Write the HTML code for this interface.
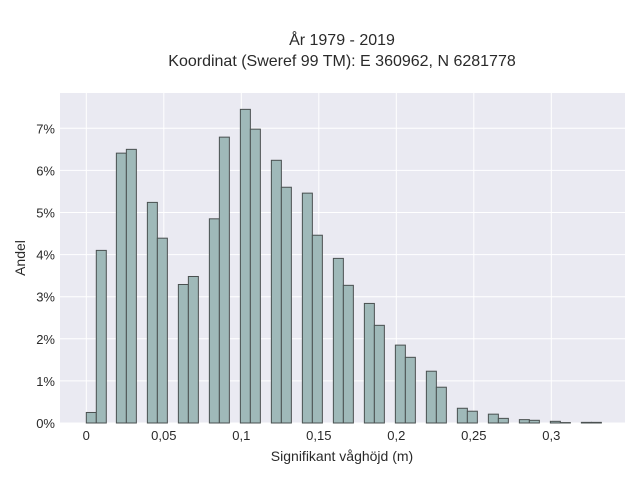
<!DOCTYPE html>
<html><head><meta charset="utf-8"><style>
body{margin:0;background:#fff;font-family:"Liberation Sans",sans-serif;}
</style></head><body>
<svg width="640" height="480" xmlns="http://www.w3.org/2000/svg">
<rect x="0" y="0" width="640" height="480" fill="#fff"/>
<rect x="60" y="93" width="565" height="330" fill="#eaeaf2"/>
<g id="grid"></g><g id="bars"></g><g id="axes"></g>
<text x="342" y="45" text-anchor="middle" font-size="16" fill="#2a2a2a">År 1979 - 2019</text>
<text x="342" y="66" text-anchor="middle" font-size="16" fill="#2a2a2a">Koordinat (Sweref 99 TM): E 360962, N 6281778</text>
<text x="342" y="461" text-anchor="middle" font-size="14" fill="#2a2a2a">Signifikant våghöjd (m)</text>
<text x="25" y="258" text-anchor="middle" font-size="14" fill="#2a2a2a" transform="rotate(-90 25 258)">Andel</text>
</svg>
<script>
const binStart=[0,0.00645,0.0194,0.02585,0.0394,0.04585,0.0594,0.06585,0.0794,0.08585,0.0994,0.10585,0.1194,0.12585,0.1394,0.14585,0.1594,0.16585,0.1794,0.18585,0.1994,0.20585,0.2194,0.22585,0.2394,0.24585,0.2594,0.26585,0.2794,0.28585,0.2994,0.30585,0.3194,0.32585];
const shares=[0.25,4.10,6.41,6.50,5.24,4.39,3.29,3.48,4.85,6.79,7.45,6.98,6.24,5.60,5.46,4.46,3.91,3.27,2.84,2.32,1.85,1.56,1.23,0.85,0.35,0.28,0.21,0.11,0.08,0.064,0.04,0.01,0.015,0.015];
const binWidth=0.00645;
const xTicks=[0,0.05,0.1,0.15,0.2,0.25,0.3];
const xTickLabels=["0","0,05","0,1","0,15","0,2","0,25","0,3"];
const yTicks=[0,1,2,3,4,5,6,7];
const yTickLabels=["0%","1%","2%","3%","4%","5%","6%","7%"];
const NS="http://www.w3.org/2000/svg";
const xs=v=>86.3+v*1550;
const ys=v=>423-v*42.1;
function mk(tag,attrs,parent){const e=document.createElementNS(NS,tag);for(const k in attrs)e.setAttribute(k,attrs[k]);parent.appendChild(e);return e;}
const grid=document.getElementById('grid'),bars=document.getElementById('bars'),axes=document.getElementById('axes');
xTicks.forEach((t,i)=>{
 const l=mk('line',{x1:xs(t),x2:xs(t),y1:93,y2:423,stroke:'#fff','stroke-width':1},grid);
 
 
 const tx=mk('text',{x:xs(t),y:440,'text-anchor':'middle','font-size':13,fill:'#2a2a2a'},axes);
 tx.textContent=xTickLabels[i];
 
 
});
yTicks.forEach((t,i)=>{
 const l=mk('line',{x1:60,x2:625,y1:ys(t),y2:ys(t),stroke:'#fff','stroke-width':1},grid);
 
 
 const tx=mk('text',{x:55,y:ys(t)+5,'text-anchor':'end','font-size':13,fill:'#2a2a2a'},axes);
 tx.textContent=yTickLabels[i];
 
 
});
binStart.forEach((b,i)=>{
 const x0=xs(b),x1=xs(b+binWidth),y=ys(shares[i]);
 const r=mk('rect',{x:x0,y:y,width:x1-x0,height:423-y,fill:'#9fb9b9',stroke:'#4a5050','stroke-width':1},bars);
 
 
});
</script>
</body></html>
